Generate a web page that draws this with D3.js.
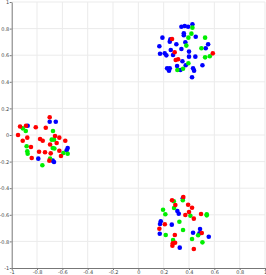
<!DOCTYPE html>
<html>
<head>
<meta charset="utf-8">
<script src="https://cdn.jsdelivr.net/npm/d3@7"></script>
<style>
  body { margin: 0; background: #fff; }
  svg { display: block; }
</style>
</head>
<body>
<svg width="266" height="275"></svg>
<script>
// tick values on both axes
var ticks = [-1, -0.8, -0.6, -0.4, -0.2, 0, 0.2, 0.4, 0.6, 0.8, 1];

// red points [x, y]
var redPts = [
  [-0.700, 0.133], [-0.934, 0.064], [-0.887, 0.070], [-0.810, 0.058], [-0.731, 0.055],
  [-0.950, 0.000], [-0.658, -0.008], [-0.624, -0.020], [-0.877, -0.020], [-0.776, -0.030],
  [-0.755, -0.043], [-0.913, -0.043], [-0.577, -0.043], [-0.697, -0.071], [-0.645, -0.060],
  [-0.848, -0.090], [-0.784, -0.126], [-0.737, -0.130], [-0.692, -0.138], [-0.624, -0.118],
  [-0.611, -0.158], [-0.842, -0.173], [-0.703, -0.193],
  [0.266, 0.722], [0.287, 0.622], [0.588, 0.614], [0.295, 0.564], [0.314, 0.569],
  [0.266, -0.491], [0.355, -0.466], [0.292, -0.526], [0.393, -0.524], [0.424, -0.547],
  [0.400, -0.579], [0.371, -0.602], [0.438, -0.629], [0.495, -0.594], [0.209, -0.671],
  [0.166, -0.705], [0.501, -0.737], [0.288, -0.752], [0.290, -0.810], [0.272, -0.814],
  [0.269, -0.832], [0.438, -0.857]
];

// green points [x, y]
var greenPts = [
  [-0.913, 0.050], [-0.889, 0.030], [-0.674, 0.030], [-0.684, -0.035], [-0.666, -0.035],
  [-0.882, -0.085], [-0.877, -0.123], [-0.874, -0.141], [-0.676, -0.098], [-0.663, -0.102],
  [-0.592, -0.135], [-0.558, -0.141], [-0.697, -0.178], [-0.758, -0.228],
  [0.427, 0.807], [0.379, 0.672], [0.395, 0.732], [0.419, 0.762], [0.527, 0.732],
  [0.498, 0.652], [0.564, 0.592], [0.527, 0.584], [0.395, 0.539], [0.308, 0.489],
  [0.353, 0.498],
  [0.280, -0.498], [0.351, -0.491], [0.282, -0.549], [0.195, -0.562], [0.213, -0.596],
  [0.411, -0.607], [0.540, -0.596], [0.540, -0.604], [0.324, -0.652], [0.353, -0.714],
  [0.472, -0.754], [0.216, -0.752], [0.424, -0.782], [0.274, -0.789], [0.506, -0.807]
];

// blue points [x, y]
var bluePts = [
  [-0.700, 0.100], [-0.652, 0.100], [-0.874, 0.070], [-0.558, -0.098], [-0.566, -0.115],
  [-0.790, -0.178], [-0.676, -0.193], [-0.666, -0.203],
  [0.340, 0.814], [0.366, 0.820], [0.393, 0.814], [0.427, 0.832], [0.359, 0.765],
  [0.359, 0.750], [0.190, 0.732], [0.253, 0.719], [0.248, 0.702], [0.300, 0.682],
  [0.166, 0.667], [0.340, 0.647], [0.371, 0.697], [0.453, 0.739], [0.551, 0.682],
  [0.532, 0.652], [0.171, 0.611], [0.208, 0.614], [0.221, 0.599], [0.256, 0.639],
  [0.274, 0.602], [0.400, 0.627], [0.400, 0.589], [0.450, 0.589], [0.348, 0.554],
  [0.374, 0.524], [0.306, 0.519], [0.227, 0.501], [0.242, 0.484], [0.248, 0.501],
  [0.332, 0.489], [0.432, 0.501], [0.440, 0.484], [0.506, 0.524], [0.424, 0.434],
  [0.351, -0.476], [0.308, -0.571], [0.319, -0.592], [0.177, -0.649], [0.171, -0.669],
  [0.264, -0.674], [0.432, -0.735], [0.487, -0.707], [0.482, -0.739], [0.169, -0.742],
  [0.556, -0.765], [0.327, -0.847]
];

var svg = d3.select("svg");

var xScale = d3.scaleLinear().domain([-1, 1]).range([11.7, 265]);
var yScale = d3.scaleLinear().domain([-1, 1]).range([268, 2]);

var fmt = function(d) { return String(+d.toFixed(1)); };

// grid
svg.append("g").selectAll("line")
  .data(ticks.slice(1))
  .enter().append("line")
  .attr("x1", function(d) { return xScale(d); })
  .attr("x2", function(d) { return xScale(d); })
  .attr("y1", yScale(1)).attr("y2", yScale(-1))
  .attr("stroke", "#ebebeb").attr("stroke-width", 1);

svg.append("g").selectAll("line")
  .data(ticks.slice(1))
  .enter().append("line")
  .attr("y1", function(d) { return yScale(d); })
  .attr("y2", function(d) { return yScale(d); })
  .attr("x1", xScale(-1)).attr("x2", xScale(1))
  .attr("stroke", "#ebebeb").attr("stroke-width", 1);

// axes
var xAxis = d3.axisBottom(xScale).tickValues(ticks).tickFormat(fmt).tickSize(2).tickSizeOuter(0);
var yAxis = d3.axisLeft(yScale).tickValues(ticks).tickFormat(fmt).tickSize(2).tickSizeOuter(0);

var gx = svg.append("g").attr("transform", "translate(0," + yScale(-1) + ")").call(xAxis);
var gy = svg.append("g").attr("transform", "translate(" + xScale(-1) + ",0)").call(yAxis);

[gx, gy].forEach(function(g) {
  g.select(".domain").attr("stroke", "#777");
  g.selectAll(".tick line").attr("stroke", "#777");
  g.selectAll(".tick text")
    .attr("fill", "#444")
    .style("font-family", "DejaVu Sans, sans-serif")
    .style("font-size", "5px");
});
gx.selectAll(".tick text").attr("y", 2.2).attr("dy", "0.71em");
gy.selectAll(".tick text").attr("x", -2.5);

// points
var drawPts = function(data, color) {
  svg.append("g").selectAll("circle")
    .data(data)
    .enter().append("circle")
    .attr("cx", function(d) { return xScale(d[0]); })
    .attr("cy", function(d) { return yScale(d[1]); })
    .attr("r", 2.3)
    .attr("fill", color);
};

drawPts(bluePts, "#0000ff");
drawPts(greenPts, "#00ee00");
drawPts(redPts, "#ff0000");
</script>
</body>
</html>
